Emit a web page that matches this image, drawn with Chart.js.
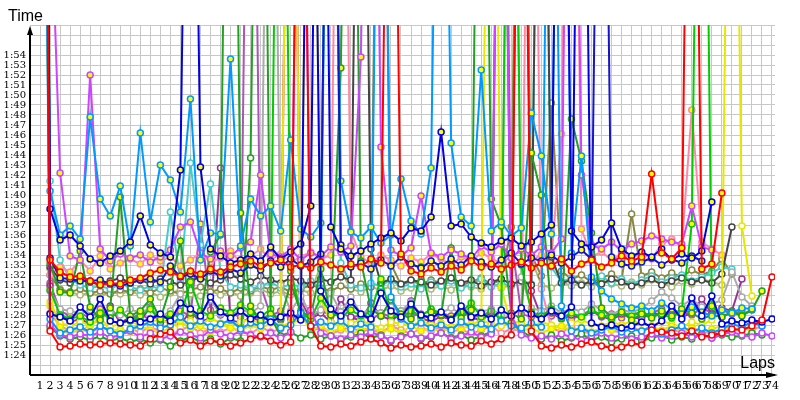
<!DOCTYPE html>
<html>
<head>
<meta charset="utf-8">
<script src="https://cdn.jsdelivr.net/npm/chart.js@4"></script>
<style>
  html, body { margin: 0; padding: 0; background: #fff; }
  #wrap { width: 800px; height: 400px; }
</style>
</head>
<body>
<div id="wrap"><canvas id="lap-chart" width="800" height="400"></canvas></div>
<script>
// Lap times (seconds) per driver, lap 1..74. Pit laps run off the top.
const laps = [1, 2, 3, 4, 5, 6, 7, 8, 9, 10, 11, 12, 13, 14, 15, 16, 17, 18, 19, 20,
  21, 22, 23, 24, 25, 26, 27, 28, 29, 30, 31, 32, 33, 34, 35, 36, 37, 38, 39, 40,
  41, 42, 43, 44, 45, 46, 47, 48, 49, 50, 51, 52, 53, 54, 55, 56, 57, 58, 59, 60,
  61, 62, 63, 64, 65, 66, 67, 68, 69, 70, 71, 72, 73, 74];

const timeTicks = ['1:24', '1:25', '1:26', '1:27', '1:28', '1:29', '1:30', '1:31', '1:32', '1:33',
  '1:34', '1:35', '1:36', '1:37', '1:38', '1:39', '1:40', '1:41', '1:42', '1:43',
  '1:44', '1:45', '1:46', '1:47', '1:48', '1:49', '1:50', '1:51', '1:52', '1:53', '1:54'];

const redW = [230, 86.4, 84.8, 84.9, 85.1, 85.0, 85.1, 85.2, 85.1, 85.0,
  84.9, 85.6, 86.1, 86.3, 85.2, 85.5, 84.9, 85.4, 85.3, 84.9,
  85.2, 85.6, 85.9, 85.4, 85.0, 85.3, 168, 86.9, 84.9, 84.8,
  85.1, 84.9, 85.3, 85.6, 85.2, 84.7, 85.0, 84.8, 84.9, 85.1,
  84.8, 85.2, 85.0, 84.9, 85.4, 85.1, 85.6, 86.0, 170, 86.4,
  84.9, 84.7, 85.0, 84.8, 85.1, 85.3, 84.9, 84.7, 84.8, 85.2,
  85.0, 86.5, 86.3, 86.2, 85.9, 86.4, 85.8, 86.0, 86.2, 86.6,
  86.5, 86.9, 87.5, 91.8];
const redY = [210, 93.5, 92.3, 91.8, 91.9, 91.4, 91.0, 91.2, 91.1, 91.5,
  91.7, 92.2, 92.5, 92.3, 91.9, 92.4, 92.1, 92.6, 92.3, 92.8,
  93.1, 93.4, 92.9, 93.2, 93.5, 92.8, 93.0, 92.7, 93.3, 93.0,
  92.6, 93.1, 92.8, 93.6, 93.2, 172, 94.1, 92.4, 92.1, 92.7,
  92.3, 92.9, 92.5, 93.4, 92.8, 93.1, 92.6, 93.0, 93.3, 92.7,
  93.2, 92.9, 93.6, 92.4, 93.1, 93.5, 92.8, 93.2, 93.9, 93.4,
  93.8, 102.1, 94.2, 93.6, 94.7, 176, 92.6, 93.1, 100.2, null,
  null, null, null, null];
const blueW = [250, 88.1, 87.8, 87.4, 88.8, 87.8, 89.6, 87.4, 87.2, 87.5,
  87.3, 87.6, 88.1, 87.4, 89.2, 88.6, 87.9, 89.8, 88.3, 87.7,
  88.4, 87.6, 88.0, 87.3, 87.8, 88.2, 87.5, 171, 90.4, 88.6,
  87.9, 89.3, 88.1, 87.6, 90.2, 88.4, 87.8, 89.1, 88.0, 87.7,
  88.3, 87.5, 88.9, 87.8, 88.2, 87.6, 88.5, 87.9, 88.7, 88.1,
  87.6, 88.4, 87.9, 88.8, 173, 87.2, 86.8, 87.0, 86.7, 86.9,
  87.3, 86.8, 87.4, 88.9, 87.6, 89.7, 87.9, 89.9, 87.1, 87.4,
  87.2, 87.5, 87.3, 87.6];
const blueY = [240, 98.6, 95.5, 96.0, 94.9, 93.6, 93.2, 93.9, 94.4, 95.3,
  97.9, 95.0, 94.2, 93.8, 102.5, 175, 102.8, 94.6, 93.9, 93.2,
  93.5, 94.1, 93.4, 94.8, 93.6, 94.3, 95.1, 98.9, 178, 96.8,
  94.6, 93.9, 94.4, 95.1, 95.7, 96.2, 95.4, 96.7, 96.4, 97.8,
  106.3, 96.9, 97.1, 95.8, 95.2, 94.8, 95.4, 95.7, 94.9, 95.3,
  96.1, 97.0, 175, 96.4, 95.1, 94.8, 95.5, 97.2, 94.6, 93.9,
  94.3, 93.8, 94.6, 93.5, 94.1, 93.7, 94.4, 99.3, null, null,
  null, null, null, null];
const navyY = [260, 93.7, 91.7, 91.6, 91.4, 91.4, 91.5, 91.1, 90.9, 91.2,
  91.5, 91.6, 91.3, 92.9, 91.8, 92.1, 91.6, 92.4, 91.9, 92.6,
  92.2, 93.0, 92.5, 93.4, 92.8, 93.6, 92.9, 93.3, 94.1, 176,
  95.0, 92.8, 93.2, 92.6, 93.5, 92.9, 93.8, 93.1, 92.7, 93.4,
  92.9, 93.6, 93.0, 93.9, 93.3, 92.8, 93.5, 94.2, 93.1, 93.7,
  93.4, 94.0, 93.2, 93.8, 94.5, 93.6, 174, 93.8, 93.1, 92.9,
  93.3, 93.7, 93.0, 93.6, 93.2, 93.9, 93.4, null, null, null,
  null, null, null, null];
const skyY = [200, 100.4, 96.0, 96.9, 95.6, 107.8, 99.6, 97.9, 100.9, 94.9,
  106.2, 97.3, 103.0, 101.5, 98.3, 109.6, 93.5, 96.2, 96.1, 113.6,
  94.9, 99.6, 97.9, 98.9, 96.4, 105.5, 96.6, 95.8, 97.2, 168,
  101.4, 96.3, 95.7, 96.8, 95.2, 96.0, 101.6, 97.4, 96.1, 102.7,
  172, 105.2, 97.8, 96.9, 112.5, 96.4, 97.3, 95.9, 96.7, 108.2,
  103.9, 96.1, 176, 94.2, 103.9, 91.8, 90.4, 89.6, 89.1, 88.7,
  88.9, 88.4, 89.2, 88.6, 88.1, 88.8, 88.3, 87.9, 88.5, 88.2,
  88.7, 88.6, null, null];
const skyW = [190, 87.6, 86.2, 86.5, 86.8, 86.3, 86.9, 86.4, 86.1, 86.6,
  86.9, 87.3, 86.7, 87.0, 87.8, 86.9, 87.4, 86.8, 87.1, 87.5,
  86.6, 87.2, 86.9, 87.6, 86.7, 87.0, 88.2, 86.8, 87.3, 86.9,
  87.4, 86.6, 87.1, 86.8, 169, 89.8, 87.6, 86.9, 87.2, 86.7,
  87.0, 86.5, 87.3, 86.8, 87.1, 86.6, 87.4, 86.9, 86.7, 87.2,
  86.8, 170, 88.9, 86.4, 86.7, 86.2, 86.5, 86.9, 86.3, 86.6,
  86.4, 86.8, 86.1, 86.5, 86.9, 86.3, 86.7, 86.2, 86.6, 87.1,
  86.8, 87.3, 86.9, null];
const violetY = [300, 132, 102.2, 93.9, 93.5, 112.0, 94.6, 93.4, 94.1, 93.7,
  94.0, 93.3, 93.8, 94.5, 96.8, 97.3, 94.2, 93.6, 94.4, 93.9,
  94.7, 95.3, 102.0, 94.1, 93.8, 94.6, 93.5, 94.2, 93.9, 94.8,
  94.3, 94.9, 113.8, 177, 104.8, 94.5, 93.9, 94.7, 99.9, 94.2,
  93.8, 94.5, 94.1, 93.6, 94.9, 94.3, 95.1, 93.7, 94.6, 94.0,
  94.8, 94.2, 95.6, 178, 102.0, 95.0, 94.6, 95.3, 94.4, 95.1,
  95.4, 95.9, 95.6, 95.3, 95.1, 98.9, 94.8, 94.5, null, null,
  null, null, null, null];
const violetW = [210, 87.0, 86.0, 85.8, 86.1, 85.9, 86.3, 85.7, 86.0, 86.4,
  85.8, 86.2, 85.6, 85.9, 86.3, 86.0, 85.7, 86.5, 86.1, 85.9,
  86.4, 86.0, 85.8, 86.2, 85.7, 86.3, 167, 88.5, 86.2, 85.9,
  85.6, 86.0, 85.8, 86.3, 85.9, 85.5, 85.8, 86.1, 85.7, 85.9,
  86.2, 85.6, 85.9, 86.3, 85.8, 86.1, 168, 87.9, 86.0, 85.7,
  85.9, 85.6, 86.1, 85.8, 85.5, 85.9, 86.2, 85.7, 86.0, 85.6,
  85.8, 86.1, 85.7, 85.9, 86.2, 85.8, 86.0, 85.7, 86.1, 86.3,
  86.0, 85.8, 86.2, 85.9];
const greenY = [280, 93.1, 90.3, 90.2, 94.4, 88.8, 87.5, 88.7, 99.8, 87.9,
  88.4, 89.6, 87.6, 90.8, 95.4, 88.2, 87.7, 94.3, 96.0, 180,
  98.2, 88.9, 87.4, 88.1, 87.6, 91.2, 88.3, 87.9, 92.6, 88.0,
  112.7, 176, 93.4, 88.6, 87.9, 89.5, 88.1, 87.6, 92.8, 88.3,
  88.0, 94.7, 87.7, 88.5, 175, 99.6, 96.9, 88.2, 87.6, 104.2,
  100.0, 88.4, 87.9, 107.6, 103.4, 96.2, 88.7, 87.8, 88.3, 87.5,
  88.1, 87.7, 88.4, 87.9, 88.6, 88.2, 87.6, 88.0, 87.8, 88.3,
  87.9, 88.5, 90.4, null];
const greenW = [215, 86.8, 85.9, 85.6, 85.8, 85.5, 85.9, 85.4, 85.7, 85.3,
  85.6, 85.2, 85.5, 84.9, 85.4, 85.8, 85.3, 85.6, 85.1, 85.7,
  85.4, 103.7, 178, 87.8, 85.9, 86.3, 85.7, 86.0, 85.6, 85.9,
  85.5, 85.8, 86.2, 85.7, 86.0, 85.4, 85.9, 86.1, 85.6, 85.8,
  86.2, 85.7, 86.0, 85.5, 85.9, 86.3, 168, 87.2, 86.4, 85.8,
  85.6, 86.0, 85.4, 85.7, 86.1, 85.5, 85.8, 85.3, 85.6, 85.9,
  85.4, 85.7, 86.0, 85.5, 85.8, 85.6, 86.1, 85.7, 86.0, 85.8,
  85.9, 86.2, 86.0, null];
const limeY = [190, 90.5, 88.0, 87.6, 87.9, 87.3, 88.2, 87.7, 88.5, 87.4,
  87.9, 88.6, 87.5, 88.1, 87.8, 91.3, 88.4, 87.9, 88.7, 88.2,
  89.0, 88.3, 87.8, 88.6, 174, 92.4, 88.1, 87.6, 89.7, 88.2,
  87.8, 88.5, 87.9, 88.3, 91.6, 88.0, 87.7, 88.4, 87.9, 88.6,
  88.1, 87.6, 88.3, 89.2, 87.8, 88.4, 87.5, 175, 93.0, 88.3,
  87.9, 88.6, 87.7, 88.2, 87.8, 88.5, 88.0, 87.6, 88.3, 87.9,
  88.4, 87.8, 88.1, 87.7, 88.5, 97.1, 176, 88.9, 87.8, 88.3,
  88.0, 88.6, null, null];
const yellowY = [200, 88.9, 86.8, 86.2, 86.5, 86.9, 87.8, 86.4, 86.6, 86.3,
  86.9, 86.5, 86.2, 86.8, 87.4, 86.6, 86.9, 86.3, 87.1, 86.7,
  86.4, 87.0, 86.6, 87.2, 86.8, 172, 88.0, 86.5, 86.9, 86.3,
  86.7, 86.1, 86.5, 86.8, 86.3, 86.6, 86.2, 86.9, 86.4, 86.7,
  86.3, 86.8, 86.5, 87.1, 86.6, 174, 90.8, 86.9, 86.4, 86.7,
  86.2, 86.6, 86.9, 86.4, 86.8, 86.3, 86.7, 86.5, 87.0, 86.6,
  86.3, 86.8, 86.5, 86.9, 86.4, 86.7, 86.2, 86.6, 86.9, 86.5,
  86.8, 86.4, null, null];
const yellowW = [205, 89.3, 87.2, 86.9, 87.3, 87.0, 87.5, 86.8, 87.1, 87.4,
  86.9, 87.3, 87.6, 87.1, 86.8, 87.4, 87.0, 87.7, 87.2, 86.9,
  87.3, 87.6, 87.1, 87.4, 86.9, 87.2, 87.5, 171, 89.6, 87.3,
  86.8, 87.2, 87.5, 87.0, 86.7, 87.3, 87.1, 86.9, 87.4, 87.0,
  87.2, 86.8, 87.3, 87.0, 87.5, 87.1, 86.9, 87.4, 87.2, 86.8,
  87.3, 87.0, 86.7, 87.2, 87.5, 87.1, 86.9, 87.3, 87.0, 87.4,
  87.2, 86.9, 87.4, 87.1, 86.8, 87.3, 87.0, 87.5, 88.2, 175,
  96.9, 89.9, null, null];
const greyW = [185, 90.4, 88.6, 88.4, 88.2, 88.5, 87.9, 88.3, 88.0, 88.6,
  88.2, 88.7, 87.8, 88.4, 90.1, 88.3, 88.0, 89.5, 88.1, 87.9,
  88.6, 88.2, 88.9, 174, 91.0, 88.4, 89.9, 88.0, 88.5, 90.2,
  88.3, 89.8, 88.1, 88.6, 88.2, 88.8, 88.4, 89.3, 88.0, 88.5,
  88.2, 88.7, 88.1, 88.9, 88.3, 88.6, 88.0, 173, 91.8, 88.7,
  88.4, 88.9, 88.2, 88.7, 88.3, 89.1, 88.5, 88.0, 88.6, 88.2,
  88.7, 89.4, 90.3, 89.7, 88.9, 89.6, 88.8, 89.1, 89.5, 92.3,
  89.8, 88.9, null, null];
const blackW = [235, 92.8, 91.5, 91.2, 91.6, 91.3, 91.0, 91.4, 91.7, 91.2,
  91.5, 91.1, 91.6, 91.3, 91.0, 91.4, 91.8, 91.2, 91.5, 92.0,
  91.6, 91.3, 91.9, 91.5, 91.2, 91.7, 91.4, 91.0, 91.6, 91.3,
  91.8, 91.5, 176, 94.6, 91.2, 91.6, 91.1, 91.5, 91.3, 91.0,
  91.4, 91.7, 91.2, 91.5, 90.9, 91.3, 91.6, 91.1, 91.4, 91.0,
  175, 93.8, 91.2, 91.5, 91.0, 91.4, 91.1, 91.6, 91.3, 90.9,
  91.2, 91.6, 91.0, 91.4, 91.7, 91.3, 91.5, 91.2, 92.1, 96.8,
  null, null, null, null];
const pinkY = [195, 92.0, 92.8, 92.3, 93.5, 92.4, 93.9, 92.6, 93.2, 93.6,
  93.1, 94.0, 93.4, 93.8, 92.9, 93.5, 94.2, 93.3, 93.7, 94.4,
  93.2, 93.9, 94.6, 93.5, 94.1, 93.3, 93.8, 94.3, 93.6, 94.0,
  176, 96.4, 93.8, 93.2, 94.0, 93.5, 92.9, 93.7, 93.3, 94.1,
  93.6, 93.0, 93.8, 93.4, 94.2, 93.7, 93.1, 93.9, 94.4, 93.5,
  94.0, 93.6, 106.1, 177, 96.6, 93.8, 94.3, 93.5, 94.1, 93.7,
  94.2, 93.6, 95.1, 95.6, 94.8, 108.5, 95.3, 94.6, 94.0, null,
  null, null, null, null];
const pinkW = [225, 88.2, 86.9, 86.4, 86.7, 86.2, 86.8, 86.5, 86.1, 86.6,
  86.3, 86.8, 86.4, 86.0, 86.5, 86.9, 86.2, 86.6, 86.3, 86.7,
  86.4, 86.1, 86.8, 86.3, 86.6, 171, 88.5, 86.4, 86.7, 86.1,
  86.5, 86.8, 86.3, 86.6, 86.2, 86.9, 86.5, 86.1, 86.7, 86.4,
  86.8, 86.3, 86.6, 86.1, 86.5, 86.9, 86.2, 86.6, 86.4, 172,
  90.6, 86.7, 86.3, 86.8, 86.4, 86.1, 86.7, 86.5, 86.2, 86.8,
  86.4, 86.9, 86.3, 86.6, 86.2, 86.7, 86.4, 86.1, 86.6, 86.3,
  86.8, 86.5, 86.9, null];
const cyanW = [260, 101.4, 93.5, 91.6, 91.0, 90.7, 90.9, 90.6, 91.1, 90.8,
  90.5, 90.9, 90.6, 98.3, 91.4, 103.2, 95.0, 101.1, 92.3, 90.8,
  91.0, 90.6, 90.9, 91.3, 90.7, 91.1, 90.8, 91.4, 90.6, 174,
  93.2, 91.0, 90.7, 91.2, 90.9, 91.5, 90.8, 91.1, 90.6, 91.3,
  90.9, 91.4, 90.7, 91.0, 91.6, 90.8, 91.2, 90.9, 91.5, 91.1,
  174, 92.8, 91.3, 91.7, 91.0, 91.4, 91.9, 91.2, 91.6, 91.1,
  91.5, 91.9, 91.3, 91.7, 92.0, 91.4, 91.8, 92.2, 92.8, 92.6,
  null, null, null, null];
const oliveW = [245, 92.0, 90.5, 90.3, 90.6, 90.2, 90.4, 90.1, 90.5, 90.3,
  90.6, 90.2, 90.7, 90.4, 90.1, 90.5, 90.8, 90.3, 90.6, 90.2,
  90.7, 90.4, 90.9, 90.5, 90.8, 90.3, 90.6, 91.0, 90.7, 90.4,
  90.9, 90.6, 91.1, 90.8, 175, 93.1, 91.0, 91.4, 91.1, 91.5,
  91.2, 91.6, 91.0, 91.3, 91.7, 91.1, 91.5, 96.8, 177, 94.0,
  91.9, 109.2, 92.4, 91.6, 92.0, 91.3, 91.7, 92.1, 91.5, 98.1,
  91.9, 92.3, 91.7, 92.2, 91.8, 92.5, 92.0, 92.4, 93.6, 92.1,
  null, null, null, null];
const khakiW = [225, 92.6, 90.6, 90.3, 90.0, 90.2, 89.9, 90.3, 90.1, 90.4,
  90.0, 90.3, 89.8, 90.2, 90.5, 90.1, 89.9, 90.4, 90.0, 90.3,
  89.9, 90.2, 90.6, 90.1, 90.4, 90.0, 90.5, 90.2, 93.0, 175,
  92.4, 90.6, 90.3, 90.8, 90.5, 90.9, 90.4, 90.7, 91.0, 90.6,
  90.9, 90.5, 91.1, 90.8, 90.6, 91.2, 90.7, 91.0, 176, 93.6,
  91.0, 90.7, 91.3, 90.9, 91.2, 90.8, 91.4, 91.1, 90.9, 91.3,
  91.0, 91.5, 91.2, 90.8, 91.4, 91.1, 91.6, 91.3, 91.0, null,
  null, null, null, null];
const purpleW = [240, 90.9, 88.0, 87.3, 87.6, 87.1, 87.5, 88.9, 87.2, 87.8,
  87.4, 88.8, 87.2, 87.6, 87.0, 88.4, 87.3, 87.7, 102.7, 87.5,
  87.2, 87.8, 87.4, 88.1, 87.5, 172, 89.4, 87.6, 88.2, 87.3,
  89.6, 87.8, 87.4, 89.2, 87.9, 87.5, 88.0, 89.4, 87.7, 87.3,
  87.9, 87.5, 88.6, 87.8, 87.4, 88.3, 87.6, 87.9, 173, 90.4,
  87.8, 88.2, 87.6, 88.0, 87.7, 88.4, 87.9, 87.5, 88.1, 87.8,
  87.6, 88.3, 87.9, 88.5, 87.8, 88.2, 89.6, 88.1, 88.7, 88.4,
  91.6, null, null, null];
const purpleY = [250, 91.2, 88.4, 87.9, 88.2, 87.7, 88.6, 87.8, 88.3, 87.6,
  88.1, 87.5, 88.0, 87.7, 88.4, 87.9, 97.1, 88.5, 88.0, 88.2,
  87.8, 170, 91.0, 87.9, 88.4, 87.6, 88.2, 87.8, 88.5, 87.9,
  88.3, 87.7, 88.0, 87.5, 88.2, 87.8, 88.4, 87.9, 88.1, 87.6,
  88.2, 87.9, 88.5, 87.7, 88.0, 88.3, 171, 95.5, 88.1, 87.8,
  88.4, 87.9, 88.2, 87.6, 88.0, 88.5, 87.8, 88.1, 87.7, 88.3,
  87.9, 88.2, 88.6, 87.8, 88.4, 88.0, 88.7, 88.2, 88.5, 88.1,
  88.4, null, null, null];

// team colour + marker fill (white / yellow for the two drivers)
const drivers = [
  { values: redW, color: '#ff0000', fill: '#ffffff' },
  { values: redY, color: '#ff0000', fill: '#ffff00' },
  { values: blueW, color: '#0000e0', fill: '#ffffff' },
  { values: blueY, color: '#0000e0', fill: '#ffff00' },
  { values: navyY, color: '#1515c8', fill: '#ffff00' },
  { values: skyY, color: '#0099ff', fill: '#ffff00' },
  { values: skyW, color: '#0099ff', fill: '#ffffff' },
  { values: violetY, color: '#cc44ff', fill: '#ffff00' },
  { values: violetW, color: '#cc44ff', fill: '#ffffff' },
  { values: greenY, color: '#22a022', fill: '#ffff00' },
  { values: greenW, color: '#22a022', fill: '#ffffff' },
  { values: limeY, color: '#00cc00', fill: '#ffff00' },
  { values: yellowY, color: '#e6e600', fill: '#ffff00' },
  { values: yellowW, color: '#e6e600', fill: '#ffffff' },
  { values: greyW, color: '#aaaaaa', fill: '#ffffff' },
  { values: blackW, color: '#444444', fill: '#ffffff' },
  { values: pinkY, color: '#ff88aa', fill: '#ffff00' },
  { values: pinkW, color: '#ff88aa', fill: '#ffffff' },
  { values: cyanW, color: '#44cccc', fill: '#ffffff' },
  { values: oliveW, color: '#888844', fill: '#ffffff' },
  { values: khakiW, color: '#aabb77', fill: '#ffffff' },
  { values: purpleW, color: '#993399', fill: '#ffffff' },
  { values: purpleY, color: '#aa55bb', fill: '#ffff00' },
];

drivers.forEach((d, i) => {
  if (d.values.length !== laps.length) throw new Error('series ' + i + ' has ' + d.values.length + ' laps');
});

const Y_MIN = 82, Y_MAX = 117;

// black axes with arrow heads + axis titles
const axisArrows = {
  id: 'axisArrows',
  afterDraw(chart) {
    const { ctx, chartArea: a } = chart;
    ctx.save();
    ctx.strokeStyle = '#000';
    ctx.fillStyle = '#000';
    ctx.lineWidth = 2;
    ctx.beginPath();
    ctx.moveTo(a.left, a.bottom);
    ctx.lineTo(a.left, a.top + 6);
    ctx.moveTo(a.left, a.bottom);
    ctx.lineTo(a.right, a.bottom);
    ctx.stroke();
    // y arrow
    ctx.beginPath();
    ctx.moveTo(a.left, a.top + 1);
    ctx.lineTo(a.left - 3, a.top + 10);
    ctx.lineTo(a.left + 3, a.top + 10);
    ctx.closePath();
    ctx.fill();
    // x arrow
    ctx.beginPath();
    ctx.moveTo(a.right + 3, a.bottom);
    ctx.lineTo(a.right - 9, a.bottom - 3);
    ctx.lineTo(a.right - 9, a.bottom + 3);
    ctx.closePath();
    ctx.fill();

    ctx.font = '16px "Liberation Sans", Arial, sans-serif';
    ctx.textBaseline = 'alphabetic';
    ctx.textAlign = 'left';
    ctx.fillText('Time', 8, 21);
    ctx.textAlign = 'right';
    ctx.fillText('Laps', a.right, a.bottom - 7);
    ctx.restore();
  }
};

new Chart(document.getElementById('lap-chart'), {
  type: 'line',
  data: {
    datasets: drivers.map(d => ({
      data: d.values
        .map((v, i) => (v === null ? null : { x: laps[i], y: v }))
        .filter(p => p !== null),
      borderColor: d.color,
      borderWidth: 2,
      pointRadius: 3,
      pointBorderWidth: 1.5,
      pointBorderColor: d.color,
      pointBackgroundColor: d.fill,
      backgroundColor: d.fill,
      tension: 0,
      fill: false,
      clip: 0,
    })),
  },
  options: {
    responsive: false,
    animation: false,
    events: [],
    layout: { padding: { top: 25, right: 25, left: 0, bottom: 0 } },
    plugins: {
      legend: { display: false },
      tooltip: { enabled: false },
    },
    scales: {
      x: {
        type: 'linear',
        min: 0,
        max: 74.3,
        border: { display: false },
        grid: { color: '#c8c8c8', lineWidth: 1, drawTicks: false },
        afterBuildTicks: (scale) => { scale.ticks = [0, ...laps].map(v => ({ value: v })); },
        afterFit: (scale) => { scale.height = 25; },
        ticks: {
          autoSkip: false,
          maxRotation: 0,
          minRotation: 0,
          padding: 5,
          color: '#000',
          font: { family: 'DejaVu Serif', size: 11 },
          callback: (v) => (v >= 1 ? String(v) : ''),
        },
      },
      y: {
        type: 'linear',
        min: Y_MIN,
        max: Y_MAX,
        border: { display: false },
        grid: { color: '#c8c8c8', lineWidth: 1, drawTicks: false },
        afterBuildTicks: (scale) => {
          const t = [];
          for (let v = Y_MIN; v <= Y_MAX; v++) t.push({ value: v });
          scale.ticks = t;
        },
        afterFit: (scale) => { scale.width = 30; },
        ticks: {
          autoSkip: false,
          padding: 4,
          color: '#000',
          font: { family: 'DejaVu Serif', size: 10 },
          callback: (v) => timeTicks[v - 84] || '',
        },
      },
    },
  },
  plugins: [axisArrows],
});
</script>
</body>
</html>
